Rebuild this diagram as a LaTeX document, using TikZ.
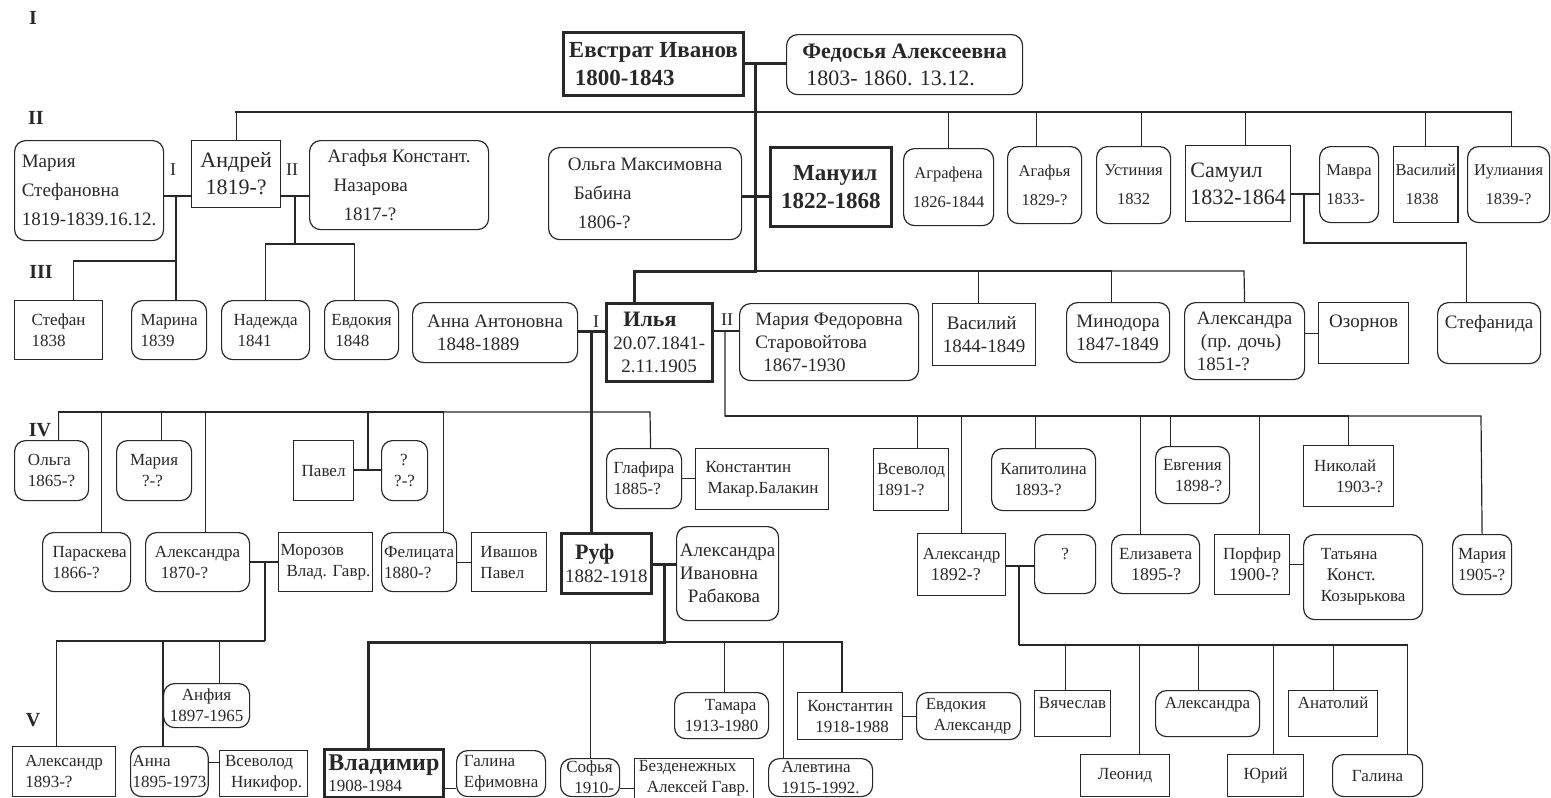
\documentclass[tikz,border=0pt]{standalone}
\usepackage{fontspec}
\setmainfont{Liberation Serif}
\usepackage{xcolor}
\usepackage{tikz}
\definecolor{ink}{RGB}{40,40,40}

\begin{document}
\begin{tikzpicture}[x=1pt,y=-1pt]
    \tikzstyle{pbox} = [draw=ink, text=ink, line width=1.2pt, anchor=north west, align=left, inner sep=2pt]
    \tikzstyle{rbox} = [pbox, rounded corners=11pt]
    \tikzstyle{mainbox} = [pbox, line width=2.8pt]
    \tikzstyle{bond} = [draw=ink, line width=1.2pt]
    \tikzstyle{mainbond} = [draw=ink, line width=3pt]
    \tikzstyle{gen} = [text=ink, font=\fontsize{20}{22}\selectfont\bfseries]
    \tikzstyle{wedlabel} = [text=ink, font=\fontsize{18}{20}\selectfont]
    \tikzstyle{txtS} = [font=\fontsize{17}{21}\selectfont]
    \tikzstyle{txtSw} = [font=\fontsize{16.5}{29}\selectfont]
    \tikzstyle{txtM} = [font=\fontsize{19}{23}\selectfont]
    \tikzstyle{txtMw} = [font=\fontsize{19}{29}\selectfont]
    \tikzstyle{txtL} = [font=\fontsize{22}{27}\selectfont]
    \tikzstyle{txtB} = [font=\fontsize{23}{28}\selectfont\bfseries]

    \useasboundingbox (0,0) rectangle (1551,798);

    % Generations
    \node[gen] (genI) at (33,18) {I};
    \node[gen] (genII) at (36,118) {II};
    \node[gen] (genIII) at (41,272) {III};
    \node[gen] (genIV) at (40,430) {IV};
    \node[gen] (genV) at (33,720) {V};

    % Generation I
    \node[mainbox, txtB, minimum width=180pt, minimum height=63pt] (evstrat) at (562,31) {Евстрат Иванов\\\hspace*{6pt}1800-1843};
    \node[rbox, txtL, minimum width=236pt, minimum height=60pt] (fedosya) at (786,34) {\textbf{Федосья Алексеевна}\\\hspace*{4pt}1803- 1860. 13.12.};

    % Generation II
    \node[rbox, txtMw, minimum width=149pt, minimum height=100pt] (mariaS) at (14,140) {Мария\\Стефановна\\1819-1839.16.12.};
    \node[pbox, txtL, align=center, minimum width=89pt, minimum height=67pt] (andrei) at (191,140) {Андрей\\1819-?};
    \node[rbox, txtMw, minimum width=179pt, minimum height=89pt] (agafyaK) at (309,140) {Агафья Констант.\\\hspace*{6pt}Назарова\\\hspace*{16pt}1817-?};
    \node[rbox, txtMw, minimum width=193pt, minimum height=92pt] (olgaM) at (548,147) {Ольга Максимовна\\\hspace*{6pt}Бабина\\\hspace*{10pt}1806-?};
    \node[mainbox, txtB, minimum width=121pt, minimum height=79pt] (manuil) at (769,146) {\hspace*{12pt}Мануил\\1822-1868};
    \node[rbox, txtSw, align=center, minimum width=90pt, minimum height=77pt] (agrafena) at (903,148) {Аграфена\\1826-1844};
    \node[rbox, txtSw, align=center, minimum width=74pt, minimum height=77pt] (agafya) at (1007,146) {Агафья\\1829-?};
    \node[rbox, txtSw, align=center, minimum width=74pt, minimum height=77pt] (ustinia) at (1096,146) {Устиния\\1832};
    \node[pbox, txtL, minimum width=105pt, minimum height=76pt] (samuil) at (1185,145) {Самуил\\1832-1864};
    \node[rbox, txtSw, minimum width=59pt, minimum height=76pt] (mavra) at (1319,146) {Мавра\\1833-};
    \node[pbox, txtSw, minimum width=60pt, minimum height=76pt] (vasiliyB) at (1393,146) {Василий\\\hspace*{10pt}1838};
    \node[rbox, txtSw, align=center, minimum width=82pt, minimum height=76pt] (iuliania) at (1467,146) {Иулиания\\1839-?};
    \node[wedlabel] (mkA) at (173,170) {I};
    \node[wedlabel] (mkB) at (292,170) {II};

    % Generation III
    \node[pbox, txtS, minimum width=88pt, minimum height=59pt] (stefan) at (14,300) {Стефан\\1838};
    \node[rbox, txtS, minimum width=75pt, minimum height=59pt] (marina) at (131,300) {Марина\\1839};
    \node[rbox, txtS, minimum width=88pt, minimum height=59pt] (nadezhda) at (221,300) {Надежда\\\hspace*{4pt}1841};
    \node[rbox, txtS, minimum width=74pt, minimum height=59pt] (evdokia) at (324,300) {Евдокия\\\hspace*{4pt}1848};
    \node[rbox, txtM, minimum width=165pt, minimum height=60pt] (annaA) at (412,302) {Анна Антоновна\\\hspace*{10pt}1848-1889};
    \node[mainbox, txtM, minimum width=106pt, minimum height=78pt] (ilya) at (605,302) {\hspace*{10pt}{\fontsize{22}{22}\selectfont\bfseries Илья}\\20.07.1841-\\\hspace*{8pt}2.11.1905};
    \node[rbox, txtM, minimum width=179pt, minimum height=77pt] (mariaF) at (739,303) {Мария Федоровна\\Старовойтова\\\hspace*{8pt}1867-1930};
    \node[pbox, txtM, minimum width=103pt, minimum height=62pt] (vasiliy) at (932,303) {\hspace*{4pt}Василий\\1844-1849};
    \node[rbox, txtM, minimum width=103pt, minimum height=60pt] (minodora) at (1066,302) {Минодора\\1847-1849};
    \node[rbox, txtM, minimum width=120pt, minimum height=77pt] (alexandraP) at (1184,302) {Александра\\\hspace*{4pt}(пр. дочь)\\1851-?};
    \node[pbox, txtM, minimum width=90pt, minimum height=61pt] (ozornov) at (1318,302) {Озорнов\\\mbox{}};
    \node[rbox, txtM, minimum width=103pt, minimum height=61pt] (stefanida) at (1437,302) {Стефанида\\\mbox{}};
    \node[wedlabel] (mkC) at (596,322) {I};
    \node[wedlabel] (mkD) at (727,320) {II};

    % Generation IV
    \node[rbox, txtS, minimum width=74pt, minimum height=60pt] (olga) at (14,440) {Ольга\\1865-?};
    \node[rbox, txtS, minimum width=75pt, minimum height=60pt] (mariyaQ) at (116,440) {Мария\\\hspace*{12pt}?-?};
    \node[pbox, txtS, minimum width=60pt, minimum height=60pt] (pavel) at (293,440) {Павел};
    \node[rbox, txtS, minimum width=46pt, minimum height=60pt] (unknownP) at (381,440) {\hspace*{6pt}?\\?-?};
    \node[rbox, txtS, minimum width=75pt, minimum height=60pt] (glafira) at (606,448) {Глафира\\1885-?};
    \node[pbox, txtS, minimum width=133pt, minimum height=61pt] (konstB) at (695,448) {Константин\\\hspace*{2pt}Макар.Балакин};
    \node[pbox, txtS, minimum width=75pt, minimum height=62pt] (vsevolodIV) at (873,448) {Всеволод\\1891-?};
    \node[rbox, txtS, minimum width=104pt, minimum height=62pt] (kapitolina) at (991,448) {Капитолина\\\hspace*{14pt}1893-?};
    \node[rbox, txtS, minimum width=74pt, minimum height=57pt] (evgeniya) at (1155,446) {Евгения\\\hspace*{12pt}1898-?};
    \node[pbox, txtS, minimum width=90pt, minimum height=61pt] (nikolai) at (1303,445) {Николай\\\hspace*{22pt}1903-?};

    \node[rbox, txtS, minimum width=88pt, minimum height=59pt] (paraskeva) at (42,532) {\hspace*{6pt}Параскева\\\hspace*{6pt}1866-?};
    \node[rbox, txtS, minimum width=104pt, minimum height=59pt] (alexandraM) at (145,532) {Александра\\\hspace*{6pt}1870-?};
    \node[pbox, txtS, minimum width=90pt, minimum height=59pt] (morozov) at (278,532) {Морозов\\\hspace*{6pt}Влад. Гавр.};
    \node[rbox, txtS, minimum width=75pt, minimum height=59pt] (felitsata) at (381,532) {Фелицата\\1880-?};
    \node[pbox, txtS, minimum width=75pt, minimum height=59pt] (ivashov) at (471,532) {Ивашов\\Павел};
    \node[mainbox, txtM, minimum width=90pt, minimum height=60pt] (ruf) at (560,532) {\hspace*{10pt}{\fontsize{22}{22}\selectfont\bfseries Руф}\\1882-1918};
    \node[rbox, txtM, minimum width=102pt, minimum height=94pt] (alexandraR) at (676,526) {Александра\\Ивановна\\\hspace*{8pt}Рабакова};
    \node[pbox, txtS, minimum width=88pt, minimum height=62pt] (alexandrIV) at (917,533) {Александр\\\hspace*{8pt}{\fontsize{18}{18}\selectfont 1892-?}};
    \node[rbox, txtS, minimum width=61pt, minimum height=59pt] (unknownA) at (1034,534) {?\\\mbox{}};
    \node[rbox, txtS, minimum width=88pt, minimum height=59pt] (elizaveta) at (1111,534) {Елизавета\\\hspace*{12pt}{\fontsize{18}{18}\selectfont 1895-?}};
    \node[pbox, txtS, minimum width=75pt, minimum height=60pt] (porfir) at (1214,534) {Порфир\\\hspace*{6pt}{\fontsize{18}{18}\selectfont 1900-?}};
    \node[rbox, txtS, minimum width=119pt, minimum height=85pt] (tatyana) at (1303,534) {Татьяна\\\hspace*{6pt}{\fontsize{18}{18}\selectfont Конст.}\\Козырькова};
    \node[rbox, txtS, minimum width=59pt, minimum height=60pt] (mariyaV) at (1452,534) {Мария\\1905-?};

    % Generation V
    \node[rbox, txtS, align=center, minimum width=86pt, minimum height=44pt] (anfiya) at (163,683) {Анфия\\1897-1965};
    \node[rbox, txtS, minimum width=94pt, minimum height=46pt] (tamara) at (674,692) {\hspace*{20pt}Тамара\\1913-1980};
    \node[pbox, txtS, minimum width=105pt, minimum height=47pt] (konstV) at (797,692) {Константин\\\hspace*{8pt}1918-1988};
    \node[rbox, txtS, minimum width=104pt, minimum height=47pt] (evdokiaA) at (916,692) {Евдокия\\\hspace*{8pt}Александр};
    \node[pbox, txtS, minimum width=76pt, minimum height=46pt] (vyacheslav) at (1034,690) {Вячеслав\\\mbox{}};
    \node[rbox, txtS, minimum width=104pt, minimum height=46pt] (alexandraV) at (1155,690) {Александра\\\mbox{}};
    \node[pbox, txtS, minimum width=89pt, minimum height=46pt] (anatoliy) at (1288,690) {Анатолий\\\mbox{}};

    \node[pbox, txtS, minimum width=103pt, minimum height=50pt] (alexandrV) at (12,746) {Александр\\1893-?};
    \node[rbox, txtS, minimum width=73pt, minimum height=50pt] (annaV) at (130,746) {Анна\\1895-1973};
    \node[pbox, txtS, minimum width=88pt, minimum height=46pt] (vsevolodV) at (219,750) {Всеволод\\\hspace*{6pt}Никифор.};
    \node[mainbox, txtS, minimum width=119pt, minimum height=48pt] (vladimir) at (323,748) {{\fontsize{24}{24}\selectfont\bfseries Владимир}\\1908-1984};
    \node[rbox, txtS, minimum width=89pt, minimum height=46pt] (galinaE) at (456,750) {Галина\\Ефимовна};
    \node[rbox, txtS, minimum width=59pt, minimum height=38pt] (sofya) at (560,758) {Софья\\\hspace*{8pt}1910-};
    \node[pbox, txtS, minimum width=119pt, minimum height=38pt] (bezden) at (634,758) {Безденежных\\\hspace*{8pt}Алексей Гавр.};
    \node[rbox, txtS, minimum width=104pt, minimum height=38pt] (alevtina) at (768,758) {Алевтина\\1915-1992.};
    \node[pbox, txtS, minimum width=89pt, minimum height=42pt] (leonid) at (1080,754) {Леонид};
    \node[pbox, txtS, minimum width=76pt, minimum height=42pt] (yuri) at (1227,754) {Юрий};
    \node[rbox, txtS, minimum width=90pt, minimum height=42pt] (galinaV) at (1332,754) {Галина};

    % Junctions
    \coordinate (jEF) at (755,62);
    \coordinate (jOM) at (755,196);
    \coordinate (busIIa) at (235,112);
    \coordinate (busIIb) at (1512,112);
    \coordinate (busIIIa) at (634,271);
    \coordinate (busIIIm) at (755,271);
    \coordinate (busIIIb) at (1244,271);
    \coordinate (jMA) at (176,196);
    \coordinate (jMS) at (176,261);
    \coordinate (jAA) at (295,196);
    \coordinate (jAAk) at (295,244);
    \coordinate (jSM) at (1304,194);
    \coordinate (jSS) at (1304,243);
    \coordinate (jAI) at (591,331);
    \coordinate (jIM) at (725,331);
    \coordinate (busIVa) at (58,412);
    \coordinate (busIVm) at (650,412);
    \coordinate (busIVb) at (725,416);
    \coordinate (busIVc) at (1481,416);
    \coordinate (jPU) at (368,470);
    \coordinate (jAMz) at (265,562);
    \coordinate (busVa) at (265,641);
    \coordinate (jRA) at (664,564);
    \coordinate (busVm) at (664,642);
    \coordinate (busVr) at (842,642);
    \coordinate (jAU) at (1019,566);
    \coordinate (busVc) at (1019,645);

    % Main line
    \draw[mainbond] (evstrat.east) -- (evstrat.east -| fedosya.west);
    \draw[mainbond] (jEF) -- (jOM) -- (busIIIm) -- (busIIIa) -- (ilya.north -| busIIIa);
    \draw[mainbond] (olgaM.east |- jOM) -- (manuil.west |- jOM);
    \draw[mainbond] (annaA.east |- jAI) -- (ilya.west |- jAI);
    \draw[mainbond] (jAI) -- (ruf.north -| jAI);
    \draw[mainbond] (ruf.east |- jRA) -- (alexandraR.west |- jRA);
    \draw[mainbond] (jRA) -- (busVm) -| ([xshift=-15.5pt]vladimir.north);

    % Generation II links
    \draw[bond] (andrei.north) |- (busIIa) -- (busIIb) -| ([xshift=3pt]iuliania.north);
    \draw[bond] (agrafena.north) |- (busIIb);
    \draw[bond] ([xshift=-8pt]agafya.north) |- (busIIb);
    \draw[bond] ([xshift=8pt]ustinia.north) |- (busIIb);
    \draw[bond] ([xshift=7.5pt]samuil.north) |- (busIIb);
    \draw[bond] (vasiliyB.north) |- (busIIb);
    \draw[bond] (mariaS.east |- jMA) -- (andrei.west |- jMA);
    \draw[bond] (jMA) -- (marina.north -| jMA);
    \draw[bond] (jMS) -| ([xshift=15pt]stefan.north);
    \draw[bond] (andrei.east |- jAA) -- (agafyaK.west |- jAA);
    \draw[bond] (jAA) -- (jAAk);
    \draw[bond] (nadezhda.north) |- (jAAk);
    \draw[bond] ([xshift=-7pt]evdokia.north) |- (jAAk);
    \draw[bond] (samuil.east |- jSM) -- (mavra.west |- jSM);
    \draw[bond] (jSM) -- (jSS) -| ([xshift=-22.5pt]stefanida.north);

    % Generation III links
    \draw[bond] (busIIIm) -- (busIIIb) -- (alexandraP.north);
    \draw[bond] ([xshift=-5.5pt]vasiliy.north) |- (busIIIm);
    \draw[bond] ([xshift=-6.5pt]minodora.north) |- (busIIIm);
    \draw[bond] (alexandraP.east |- ozornov.west) -- (ozornov.west);
    \draw[bond] (ilya.east |- jIM) -- (mariaF.west |- jIM);
    \draw[bond] (jIM) -- (busIVb) -- (busIVc) -- (mariyaV.north);

    % Generation IV links
    \draw[bond] ([xshift=7pt]olga.north) |- (busIVm) -- ([xshift=6.5pt]glafira.north);
    \draw[bond] ([xshift=15pt]paraskeva.north) |- (busIVa);
    \draw[bond] ([xshift=7.5pt]mariyaQ.north) |- (busIVa);
    \draw[bond] ([xshift=8pt]alexandraM.north) |- (busIVa);
    \draw[bond] ([xshift=24.5pt]felitsata.north) |- (busIVa);
    \draw[bond] (pavel.east |- jPU) -- (unknownP.west |- jPU);
    \draw[bond] (jPU) |- (busIVa);
    \draw[bond] (glafira.east) -- (glafira.east -| konstB.west);
    \draw[bond] ([xshift=6.5pt]vsevolodIV.north) |- (busIVb);
    \draw[bond] (alexandrIV.north) |- (busIVb);
    \draw[bond] ([xshift=-8pt]kapitolina.north) |- (busIVb);
    \draw[bond] ([xshift=-15pt]elizaveta.north) |- (busIVb);
    \draw[bond] ([xshift=-22pt]evgeniya.north) |- (busIVb);
    \draw[bond] ([xshift=7.5pt]porfir.north) |- (busIVb);
    \draw[bond] (nikolai.north) |- (busIVb);

    % Generation V links
    \draw[bond] (alexandraM.east |- jAMz) -- (morozov.west |- jAMz);
    \draw[bond] (jAMz) -- (busVa);
    \draw[bond] ([xshift=-7.5pt]alexandrV.north) |- (busVa);
    \draw[bond] ([xshift=-6.5pt]annaV.north) |- (busVa);
    \draw[bond] ([xshift=13pt]anfiya.north) |- (busVa);
    \draw[bond] (felitsata.east) -- (felitsata.east -| ivashov.west);
    \draw[bond] (busVm) -- (busVr) -- (busVr |- konstV.north);
    \draw[bond] (sofya.north) |- (busVm);
    \draw[bond] ([xshift=3pt]tamara.north) |- (busVm);
    \draw[bond] ([xshift=-37pt]alevtina.north) |- (busVm);
    \draw[bond] (alexandrIV.east |- jAU) -- (unknownA.west |- jAU);
    \draw[bond] (jAU) -- (busVc);
    \draw[bond] ([xshift=-7pt]vyacheslav.north) |- (busVc);
    \draw[bond] ([xshift=14.5pt]leonid.north) |- (busVc);
    \draw[bond] ([xshift=-9pt]alexandraV.north) |- (busVc);
    \draw[bond] ([xshift=8pt]yuri.north) |- (busVc);
    \draw[bond] (anatoliy.north) |- (busVc);
    \draw[bond] ([xshift=30pt]galinaV.north) |- (busVc);
    \draw[bond] (porfir.east) -- (porfir.east -| tatyana.west);
    \draw[bond] (konstV.east) -- (konstV.east -| evdokiaA.west);
    \draw[bond] ([yshift=9pt]annaV.east) -- ([yshift=9pt]annaV.east -| vsevolodV.west);
    \draw[bond] ([yshift=-15pt]vladimir.east) -- ([yshift=-15pt]vladimir.east -| galinaE.west);
    \draw[bond] ([yshift=-11pt]sofya.east) -- ([yshift=-11pt]sofya.east -| bezden.west);
\end{tikzpicture}
\end{document}
